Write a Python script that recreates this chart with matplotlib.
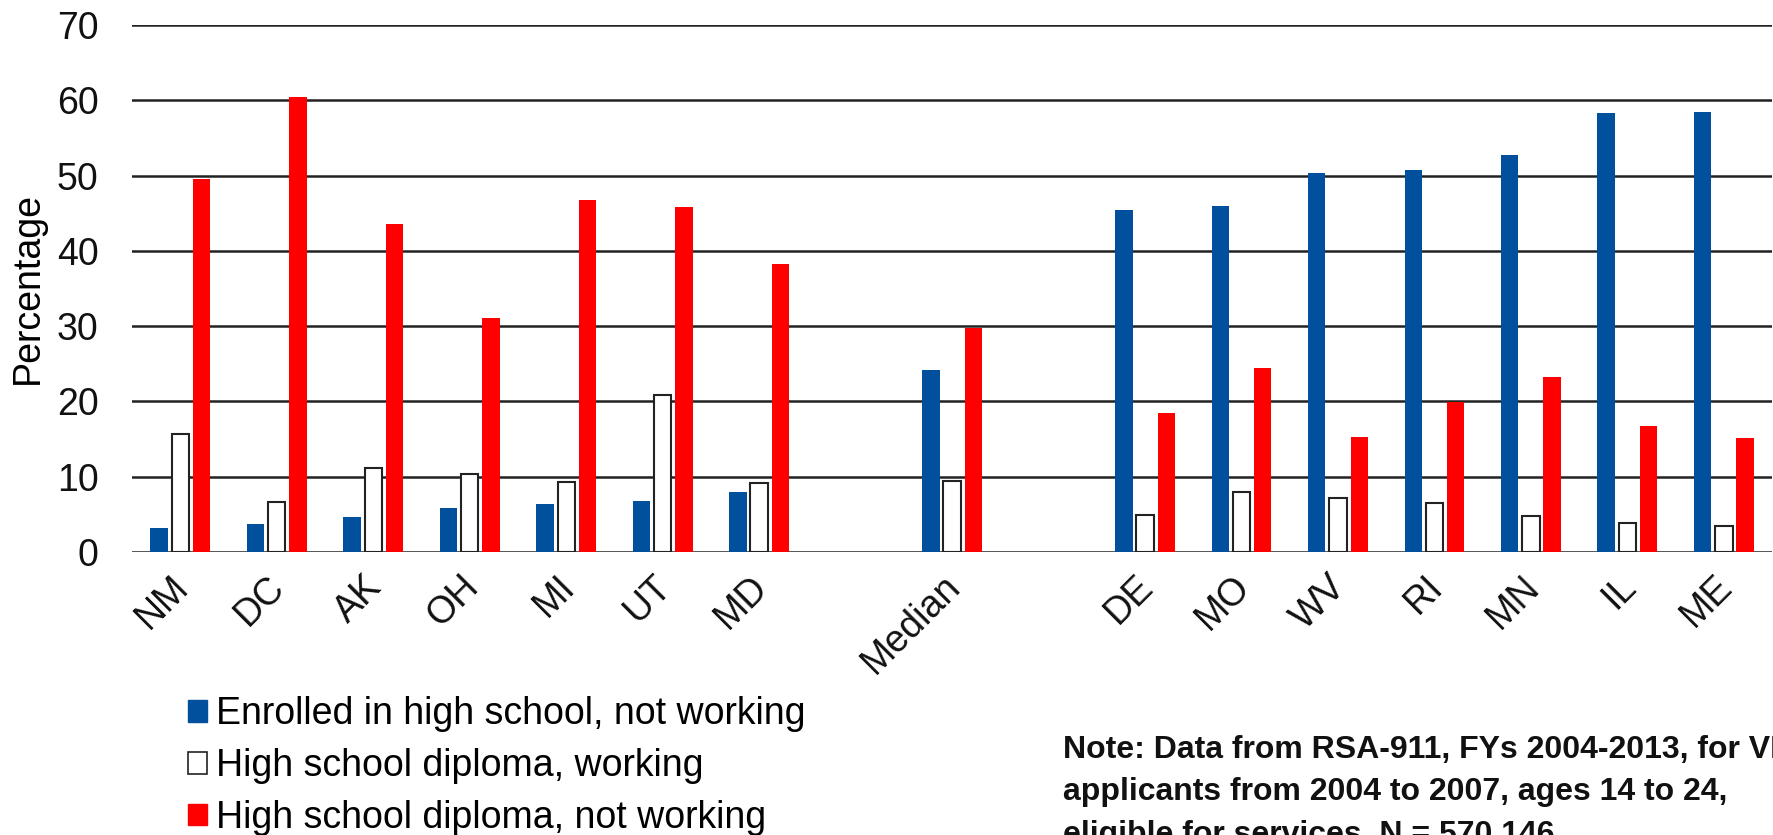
import numpy as np
import matplotlib
matplotlib.use("Agg")
import matplotlib.pyplot as plt
import matplotlib.transforms as mtransforms
from matplotlib.patches import Patch

plt.rcParams["font.family"] = ["Liberation Sans", "DejaVu Sans"]

# blank slots separate the low group, the median and the high group
categories = ["NM", "DC", "AK", "OH", "MI", "UT", "MD", "",
              "Median", "",
              "DE", "MO", "WV", "RI", "MN", "IL", "ME"]
enrolled_not_working = [3.2, 3.7, 4.6, 5.9, 6.4, 6.8, 7.9, np.nan,
                        24.2, np.nan,
                        45.4, 45.9, 50.4, 50.8, 52.8, 58.3, 58.4]
diploma_working = [15.7, 6.7, 11.2, 10.4, 9.3, 20.9, 9.1, np.nan,
                   9.4, np.nan,
                   4.9, 8.0, 7.2, 6.5, 4.8, 3.9, 3.4]
diploma_not_working = [49.5, 60.4, 43.6, 31.1, 46.7, 45.8, 38.3, np.nan,
                       29.8, np.nan,
                       18.5, 24.5, 15.3, 19.9, 23.3, 16.7, 15.1]
series_labels = ["Enrolled in high school, not working",
                 "High school diploma, working",
                 "High school diploma, not working"]
y_ticks = [0, 10, 20, 30, 40, 50, 60, 70]

BLUE = "#00509D"
RED = "#FF0000"

fig = plt.figure(figsize=(17.73, 8.35), dpi=100)
ax = fig.add_axes([0.0745, 0.339, 0.925, 0.631])

x = np.arange(len(categories))
w = 0.18
off = 0.22
ax.bar(x - off, enrolled_not_working, w, color=BLUE, zorder=3)
ax.bar(x, diploma_working, w, color="white", edgecolor="#222222", linewidth=1.5, zorder=3)
ax.bar(x + off, diploma_not_working, w, color=RED, zorder=3)

ax.set_xlim(-0.5, len(categories) - 0.5)
ax.set_ylim(0, 70)
ax.set_yticks(y_ticks)
ax.yaxis.grid(True, color="#222222", linewidth=1.8, zorder=0)
ax.set_axisbelow(True)
for s in ["top", "right", "left", "bottom"]:
    ax.spines[s].set_visible(False)
ax.tick_params(axis="both", length=0, labelsize=27, colors="#111111")
ax.tick_params(axis="y", pad=24)
ax.set_xticks(x)
ax.set_xticklabels(categories, rotation=45, ha="right", rotation_mode="anchor")
ax.tick_params(axis="x", pad=12)
# nudge rotated labels a little to the left
shift = mtransforms.ScaledTranslation(-0.1, 0, fig.dpi_scale_trans)
for lbl in ax.get_xticklabels():
    lbl.set_transform(lbl.get_transform() + shift)
ax.set_ylabel("Percentage", fontsize=27)
ax.yaxis.set_label_coords(-0.0525, 0.5)

handles = [Patch(facecolor=BLUE, edgecolor=BLUE),
           Patch(facecolor="white", edgecolor="#222222", linewidth=1.2),
           Patch(facecolor=RED, edgecolor=RED)]
fig.legend(handles, series_labels, loc="upper left", bbox_to_anchor=(0.106, 0.166),
           frameon=False, fontsize=27, handlelength=0.5, handleheight=0.5,
           handletextpad=0.25, labelspacing=0.42, borderaxespad=0,
           borderpad=0)

fig.text(0.5995, 0.12,
         "Note: Data from RSA-911, FYs 2004-2013, for VR\n"
         "applicants from 2004 to 2007, ages 14 to 24,\n"
         "eligible for services. N = 570,146.",
         fontsize=23, fontweight="bold", va="top", ha="left", linespacing=1.55,
         color="#111111")

fig.savefig("out.png", dpi=100)
